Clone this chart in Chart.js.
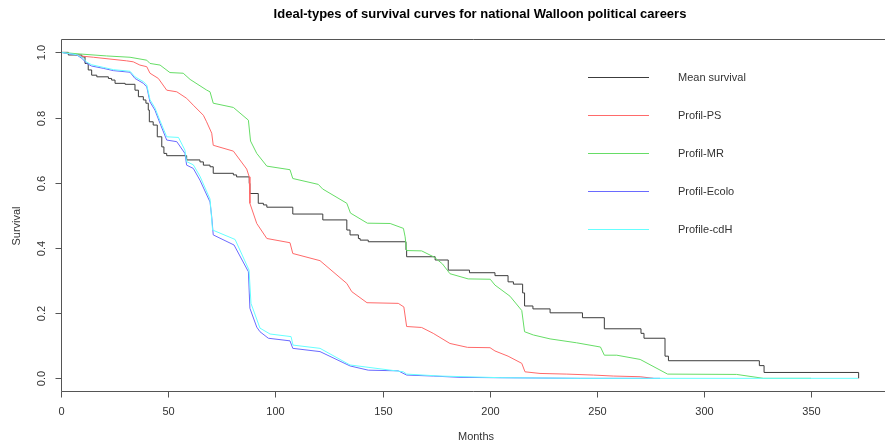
<!DOCTYPE html>
<html>
<head>
<meta charset="utf-8">
<script src="https://cdn.jsdelivr.net/npm/chart.js@4.4.1/dist/chart.umd.min.js"></script>
<style>
  body { margin: 0; background: #fff; }
  canvas { display: block; }
</style>
</head>
<body>
<canvas id="myChart" width="885" height="447"></canvas>
<script>
// values (months, survival)
const monthsMean = [0, 3.4, 9.7, 11.2, 12.7, 14.3, 16.7, 22.1, 23.6, 25.2, 29.9, 34.5, 36.1, 38.4, 39.6, 40.7, 41.2, 43.0, 44.9, 47.0, 48.0, 49.3, 58.6, 64.8, 66.4, 69.5, 71.0, 80.4, 81.9, 87.8, 88.1, 92.0, 94.4, 96.0, 108.1, 122.1, 133.3, 134.8, 138.7, 139.5, 143.3, 160.9, 161.2, 174.5, 180.6, 190.5, 202.4, 208.5, 211.0, 215.3, 216.2, 220.1, 228.1, 243.2, 253.4, 270.5, 271.9, 281.7, 283.3, 325.7, 327.9, 372.0, 372.0];
const survMean = [1.0, 0.992, 0.986, 0.966, 0.946, 0.930, 0.925, 0.920, 0.915, 0.905, 0.902, 0.884, 0.864, 0.854, 0.844, 0.823, 0.787, 0.777, 0.741, 0.710, 0.690, 0.683, 0.670, 0.664, 0.654, 0.649, 0.629, 0.624, 0.618, 0.598, 0.567, 0.537, 0.532, 0.525, 0.504, 0.486, 0.455, 0.440, 0.429, 0.424, 0.419, 0.394, 0.373, 0.363, 0.332, 0.324, 0.315, 0.296, 0.289, 0.262, 0.222, 0.213, 0.201, 0.186, 0.152, 0.138, 0.123, 0.068, 0.054, 0.039, 0.018, 0.018, 0.0];

const monthsPS = [0, 5.7, 8.9, 15.1, 30.6, 33.7, 36.8, 40.0, 41.5, 45.4, 49.3, 54.0, 58.6, 61.7, 66.4, 67.9, 70.3, 71.0, 80.4, 86.6, 87.8, 88.1, 91.3, 96.0, 106.8, 108.1, 120.8, 133.3, 135.6, 142.7, 157.3, 159.9, 161.2, 168.2, 173.6, 181.4, 189.6, 200.1, 202.4, 208.5, 214.9, 216.4, 223.4, 235.9, 248.3, 257.6, 270.1, 276.3];
const survPS = [1.0, 0.995, 0.989, 0.985, 0.974, 0.971, 0.961, 0.956, 0.936, 0.920, 0.884, 0.879, 0.859, 0.838, 0.807, 0.787, 0.752, 0.715, 0.697, 0.642, 0.618, 0.537, 0.475, 0.429, 0.416, 0.383, 0.361, 0.291, 0.266, 0.232, 0.230, 0.219, 0.159, 0.156, 0.138, 0.107, 0.095, 0.094, 0.084, 0.068, 0.046, 0.020, 0.015, 0.013, 0.010, 0.007, 0.005, 0.0];

const monthsMR = [0, 8.9, 21.3, 32.2, 40.0, 41.5, 46.2, 50.8, 57.0, 60.2, 68.0, 69.5, 71.0, 80.4, 87.4, 88.4, 91.3, 96.0, 106.8, 108.1, 120.0, 122.0, 133.3, 135.0, 142.9, 153.5, 159.7, 160.5, 161.2, 168.2, 174.0, 177.9, 181.4, 189.9, 200.2, 202.4, 209.4, 214.9, 216.2, 220.3, 228.1, 240.5, 251.6, 253.4, 259.2, 270.1, 282.9, 315.1, 327.6, 349.8];
const survMR = [1.0, 0.995, 0.989, 0.985, 0.976, 0.966, 0.961, 0.938, 0.936, 0.917, 0.884, 0.879, 0.844, 0.831, 0.792, 0.728, 0.690, 0.651, 0.640, 0.613, 0.595, 0.581, 0.537, 0.507, 0.476, 0.475, 0.460, 0.434, 0.392, 0.391, 0.372, 0.351, 0.321, 0.305, 0.304, 0.286, 0.252, 0.208, 0.143, 0.133, 0.121, 0.109, 0.096, 0.071, 0.071, 0.058, 0.013, 0.012, 0.0, 0.0];

const monthsEcolo = [0, 7.3, 9.7, 12.0, 14.3, 19.7, 24.4, 32.2, 34.5, 38.4, 40.0, 41.5, 43.8, 46.2, 49.3, 54.0, 57.8, 58.6, 61.7, 64.8, 69.5, 70.3, 71.0, 80.7, 87.4, 88.1, 91.3, 92.8, 96.7, 106.8, 108.1, 120.8, 134.8, 143.3, 157.3, 161.2, 173.6, 186.1, 201.6, 242.1, 279.4];
const survEcolo = [1.0, 0.992, 0.982, 0.966, 0.958, 0.951, 0.944, 0.939, 0.920, 0.905, 0.894, 0.848, 0.823, 0.782, 0.731, 0.726, 0.690, 0.654, 0.644, 0.608, 0.541, 0.495, 0.440, 0.409, 0.327, 0.215, 0.157, 0.143, 0.123, 0.115, 0.092, 0.082, 0.038, 0.025, 0.023, 0.010, 0.007, 0.003, 0.002, 0.0, 0.0];

const monthsCdH = [0, 7.3, 9.7, 12.0, 14.3, 19.7, 24.4, 32.2, 34.5, 38.4, 40.0, 41.5, 43.8, 46.2, 49.3, 54.8, 57.8, 58.6, 61.7, 64.8, 69.5, 70.7, 81.2, 87.7, 88.6, 92.8, 97.5, 107.3, 108.2, 120.8, 134.8, 159.7, 161.2, 176.8, 204.8, 242.0, 371.7];
const survCdH = [1.0, 0.993, 0.985, 0.970, 0.962, 0.954, 0.947, 0.942, 0.925, 0.910, 0.900, 0.855, 0.830, 0.790, 0.741, 0.739, 0.700, 0.665, 0.655, 0.620, 0.550, 0.455, 0.426, 0.332, 0.230, 0.154, 0.136, 0.128, 0.102, 0.092, 0.041, 0.020, 0.013, 0.007, 0.002, 0.0, 0.0];

const seriesNames = ["Mean survival", "Profil-PS", "Profil-MR", "Profil-Ecolo", "Profile-cdH"];
const xTicks = [0, 50, 100, 150, 200, 250, 300, 350];
const yTicks = [0, 0.2, 0.4, 0.6, 0.8, 1.0];
const yTickLabels = ["0.0", "0.2", "0.4", "0.6", "0.8", "1.0"];

const FONT = '"Liberation Sans", Arial, sans-serif';
const colors = ["#3c3c3c", "#ff6a6a", "#66dd66", "#6a6aff", "#66ffff"];

function toPoints(xs, ys) {
  let pts = [];
  for (let i = 0; i < Math.min(xs.length, ys.length); i++) {
    pts.push({ x: xs[i], y: ys[i] });
  }
  return pts;
}

const allX = [monthsMean, monthsPS, monthsMR, monthsEcolo, monthsCdH];
const allY = [survMean, survPS, survMR, survEcolo, survCdH];

let datasets = [];
for (let i = 0; i < seriesNames.length; i++) {
  datasets.push({
    label: seriesNames[i],
    data: toPoints(allX[i], allY[i]),
    borderColor: colors[i],
    borderWidth: 1,
    pointRadius: 0,
    fill: false,
    stepped: i === 0 ? "before" : false,
    tension: 0,
    order: 5 - i // cyan drawn last
  });
}

// R-like frame, ticks, titles and legend, placed with the chart's own scales
const rStyle = {
  id: "rStyle",
  afterDraw(chart) {
    const ctx = chart.ctx;
    const area = chart.chartArea;
    const xs = chart.scales.x;
    const ys = chart.scales.y;
    ctx.save();
    ctx.strokeStyle = "#555";
    ctx.lineWidth = 1;

    // box, right side is outside the picture
    let top = Math.round(area.top) + 0.5;
    let bottom = Math.round(area.bottom) - 0.5;
    let left = Math.round(area.left) + 0.5;
    ctx.beginPath();
    ctx.moveTo(area.right, top);
    ctx.lineTo(left, top);
    ctx.lineTo(left, bottom);
    ctx.lineTo(area.right, bottom);
    ctx.stroke();

    ctx.fillStyle = "#333";
    ctx.font = "11px " + FONT;
    ctx.textAlign = "center";
    ctx.textBaseline = "middle";

    // x ticks
    xTicks.forEach(v => {
      let px = Math.round(xs.getPixelForValue(v)) + 0.5;
      ctx.beginPath();
      ctx.moveTo(px, bottom);
      ctx.lineTo(px, bottom + 6);
      ctx.stroke();
      ctx.fillText(String(v), px, bottom + 20);
    });

    // y ticks, labels turned like R does
    yTicks.forEach((v, i) => {
      let py = Math.round(ys.getPixelForValue(v)) + 0.5;
      ctx.beginPath();
      ctx.moveTo(left, py);
      ctx.lineTo(left - 6, py);
      ctx.stroke();
      ctx.save();
      ctx.translate(left - 19.5, py);
      ctx.rotate(-Math.PI / 2);
      ctx.fillText(yTickLabels[i], 0, 0);
      ctx.restore();
    });

    // axis titles
    ctx.fillText("Months", 476, 437);
    ctx.save();
    ctx.translate(17, 226);
    ctx.rotate(-Math.PI / 2);
    ctx.fillText("Survival", 0, 0);
    ctx.restore();

    // main title
    ctx.fillStyle = "#000";
    ctx.font = "bold 13px " + FONT;
    ctx.fillText("Ideal-types of survival curves for national Walloon political careers", 480, 14);

    // legend, no box
    const rows = [77, 115, 153, 191, 229];
    ctx.font = "11px " + FONT;
    ctx.textAlign = "left";
    ctx.fillStyle = "#333";
    chart.data.datasets.forEach((ds, i) => {
      let y = rows[i] + 0.5;
      ctx.strokeStyle = ds.borderColor;
      ctx.beginPath();
      ctx.moveTo(588, y);
      ctx.lineTo(649, y);
      ctx.stroke();
      ctx.fillText(ds.label, 678, y);
    });

    ctx.restore();
  }
};

const ctx = document.getElementById("myChart");
const myChart = new Chart(ctx, {
  type: "line",
  data: { datasets: datasets },
  options: {
    responsive: false,
    animation: false,
    layout: { padding: { left: 61, top: 39, right: 0, bottom: 55.3 } },
    plugins: { legend: { display: false }, tooltip: { enabled: false } },
    scales: {
      x: { type: "linear", min: 0, max: 384.3, display: false },
      y: { type: "linear", min: -0.041, max: 1.041, display: false }
    }
  },
  plugins: [rStyle]
});
</script>
</body>
</html>
